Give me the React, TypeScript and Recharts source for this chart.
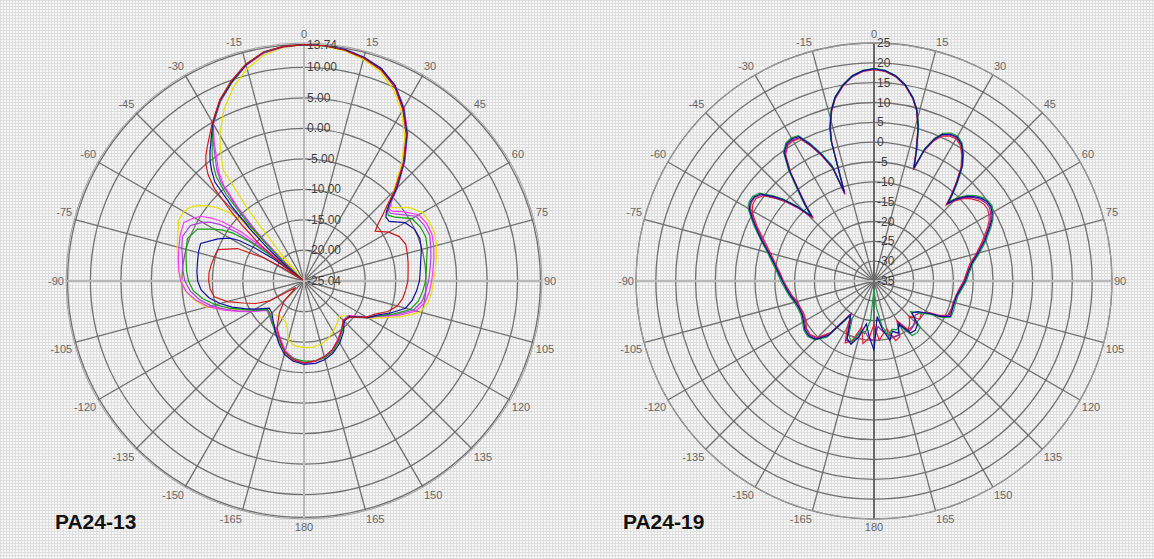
import { RadarChart, Radar, PolarGrid, PolarAngleAxis, PolarRadiusAxis } from 'recharts';

// angle ticks every 15 deg, clockwise from the top
const ANGLE_TICKS = [0, 15, 30, 45, 60, 75, 90, 105, 120, 135, 150, 165, 180, 195, 210, 225, 240, 255, 270, 285, 300, 315, 330, 345];

// ---- PA24-13 ----
const L_ANGLES = [0, 5, 10, 15, 20, 25, 30, 35, 40, 45, 48, 50, 52, 55, 60, 65, 70, 75, 80, 85, 90, 95, 100, 105, 110, 115, 120, 128, 135, 142, 150, 158, 165, 172, 180, 188, 195, 202, 210, 218, 225, 232, 240, 245, 250, 255, 260, 265, 270, 275, 280, 285, 290, 296, 300, 302, 304, 306, 308, 310, 312, 314, 316, 318, 320, 322, 324, 327, 330, 335, 340, 345, 350, 355];
const L_YELLOW = [
  13.74, 13.6, 13.3, 12.6, 11.5, 9.6, 7.0, 3.8, -0.2, -4.3,
  -5.8, -6.3, -5.5, -4.0,
  -2.6, -2.3, -2.2, -2.5, -3.0, -3.4, -3.8, -4.0, -4.4, -5.3, -8.0, -10.8, -12.8,
  -15.8, -16.8, -16.2, -15.5, -14.7, -14.3, -14.1, -14.1,
  -14.3, -15.0, -17.5, -18.0, -17.8, -17.5, -17.3,
  -15.5, -13.8, -11.5, -8.5, -6.8, -5.6, -4.9, -4.4, -4.0, -3.5, -3.0, -2.2,
  -2.3, -2.6, -3.1, -4.0, -5.0, -6.3, -8.0, -10.5, -19.0, -24.8, -19.0, -10.0, -2.5,
  0.0, 2.6, 6.0, 8.8, 11.0, 12.6, 13.4,
];
const L_MAGENTA = [
  13.74, 13.7, 13.5, 12.95, 12.0, 10.3, 7.7, 4.5, 0.6, -3.4,
  -5.8, -6.8, -6.5, -5.2,
  -3.3, -2.8, -2.7, -3.0, -3.4, -3.8, -4.1, -4.4, -4.9, -6.0, -8.5, -11.3, -13.3,
  -15.8, -16.0, -15.0, -14.0, -12.8, -12.2, -11.8, -11.6,
  -12.3, -13.2, -14.8, -15.9, -16.6, -17.3, -17.2,
  -15.0, -13.2, -11.0, -8.8, -7.0, -5.6, -4.8, -4.4, -4.1, -3.8, -3.4, -3.1,
  -4.3, -5.0, -6.5, -8.5, -12.0, -19.0, -24.8, -20.0, -14.0, -9.0, -4.5, -2.3, -0.8,
  2.0, 4.7, 7.4, 9.6, 11.6, 12.9, 13.5,
];
const L_VIOLET = [
  13.74, 13.7, 13.6, 13.0, 12.1, 10.4, 7.8, 4.6, 0.7, -3.3,
  -6.0, -7.0, -7.0, -6.0,
  -3.8, -3.3, -3.1, -3.5, -3.9, -4.3, -4.6, -5.0, -5.4, -6.5, -8.9, -11.4, -12.9,
  -15.4, -15.9, -14.9, -13.8, -12.7, -12.0, -11.7, -11.5,
  -12.1, -13.0, -14.5, -15.7, -16.4, -17.0, -17.3,
  -15.2, -13.4, -11.4, -9.3, -7.6, -6.3, -5.5, -5.1, -4.8, -4.3, -3.8, -4.3,
  -5.8, -6.8, -8.5, -11.5, -17.0, -24.5, -23.5, -19.0, -13.5, -8.0, -3.8, -1.8, -0.3,
  2.3, 4.7, 7.5, 9.6, 11.6, 13.0, 13.5,
];
const L_GREEN = [
  13.74, 13.7, 13.5, 12.9, 12.0, 10.3, 7.6, 4.4, 0.5, -3.5,
  -6.2, -7.2, -7.5, -6.8,
  -4.6, -4.0, -3.8, -4.1, -4.6, -4.9, -5.1, -5.5, -6.0, -7.0, -9.3, -11.6, -13.0,
  -15.6, -15.9, -14.8, -13.6, -12.5, -12.0, -11.8, -11.9,
  -12.2, -13.0, -14.2, -15.5, -16.5, -17.2, -17.5,
  -15.5, -14.0, -12.0, -10.0, -8.2, -6.8, -6.1, -5.7, -5.4, -5.0, -4.7, -5.6,
  -8.0, -9.3, -11.0, -14.0, -19.0, -24.8, -21.5, -17.0, -11.5, -6.0, -2.6, -0.9, 0.6,
  2.6, 4.8, 7.5, 9.6, 11.7, 13.0, 13.6,
];
const L_NAVY = [
  13.74, 13.7, 13.5, 12.9, 12.0, 10.3, 7.6, 4.4, 0.5, -3.6,
  -6.3, -7.4, -8.0, -8.0,
  -5.9, -5.0, -4.8, -5.1, -5.6, -5.9, -6.1, -6.5, -7.0, -7.8, -9.8, -11.8, -13.0,
  -15.6, -15.7, -14.5, -13.3, -12.3, -11.7, -11.4, -11.35,
  -11.8, -12.6, -14.0, -15.6, -16.8, -17.6, -17.8,
  -15.8, -14.3, -12.5, -10.8, -9.2, -8.1, -7.6, -7.4, -7.3, -7.1, -7.0, -9.3,
  -11.0, -12.5, -15.5, -19.0, -24.8, -21.5, -17.0, -12.5, -8.0, -3.2, -1.5, 0.0, 1.2,
  2.9, 4.9, 7.6, 9.7, 11.7, 13.1, 13.6,
];
const L_RED = [
  13.74, 13.7, 13.4, 12.8, 11.8, 10.1, 7.4, 4.2, 0.3, -4.0,
  -6.8, -8.2, -9.5, -10.8,
  -9.0, -7.8, -7.3, -7.5, -7.7, -7.9, -8.0, -8.3, -8.6, -9.2, -10.4, -12.2, -13.2,
  -15.4, -15.9, -15.0, -13.8, -12.8, -12.2, -11.8, -11.6,
  -12.0, -12.9, -14.6, -16.2, -18.5, -20.5, -23.3,
  -18.5, -16.3, -14.5, -12.0, -10.1, -9.6, -9.4, -9.4, -9.6, -9.8, -10.0, -12.9,
  -17.5, -21.0, -24.8, -22.5, -19.0, -15.0, -11.5, -7.8, -3.8, -1.5, 0.0, 1.1, 2.0,
  3.4, 5.0, 7.7, 9.9, 11.8, 13.1, 13.6,
];
const L_TICKS = [-25.04, -20, -15, -10, -5, 0, 5, 10, 13.74];

// ---- PA24-19 ----
const R_ANGLES = [
  0, 3, 6, 9, 12, 14, 16, 18, 19.5, 21,
  23, 25, 27.5, 30, 32.5, 35, 37.5, 40, 42, 43.5,
  45, 47.5, 50, 52.5, 55, 57.5, 60, 62.5, 65, 70,
  75, 80, 85, 90, 95, 100, 105, 110, 115, 118,
  120, 125, 130, 135, 140, 145, 150, 155, 160, 165,
  170, 175, 180, 185, 190, 195, 200, 205, 210, 215,
  220, 225, 230, 235, 240, 245, 250, 255, 260, 265,
  270, 275, 280, 285, 290, 295, 297.5, 300, 302.5, 305,
  307.5, 310, 312, 314, 316, 318, 320, 322.5, 325, 327.5,
  330, 332.5, 335, 337.5, 340, 341.5, 343, 344, 346, 348,
  351, 354, 357,
];
const R_NAVY = [
  18.5, 18.1, 17.0, 15.1, 12.2, 9.5, 5.5, -0.3, -4.8, 0.5,
  3.8, 5.8, 6.7, 6.9, 6.0, 4.1, 1.5, -2.4, -5.5, -8.0,
  -5.8, -3.4, -1.9, -0.8, -0.2, -0.1, -0.6, -1.5, -2.8, -5.3,
  -7.8, -10.0, -11.2, -12.0, -13.0, -13.8, -14.0, -14.0, -13.8, -16.0,
  -18.5, -21.5, -22.5, -19.5, -18.8, -19.0, -22.5, -20.5, -21.5, -19.5,
  -22.5, -26.0, -17.5, -21.0, -24.0, -20.5, -18.0, -19.0, -23.0, -24.5,
  -17.0, -14.2, -13.5, -13.7, -14.5, -15.0, -14.9, -14.5, -13.6, -12.8,
  -11.9, -10.8, -9.4, -7.5, -4.8, -1.9, -0.3, 1.3, 2.0, 1.9,
  1.0, -1.9, -4.5, -8.0, -12.4, -9.0, -5.5, 0.0, 4.5, 6.0,
  6.4, 6.0, 3.0, -0.5, -4.5, -11.5, 1.8, 5.2, 9.4, 12.3,
  15.0, 17.0, 18.1,
];
const R_RED = [
  18.3, 17.9, 16.8, 14.9, 12.0, 9.3, 5.2, -0.8, -5.3, 0.0,
  3.3, 5.3, 6.2, 6.4, 5.5, 3.6, 1.0, -2.9, -6.0, -8.6,
  -6.5, -4.2, -2.8, -1.8, -1.2, -1.1, -1.5, -2.3, -3.5, -6.0,
  -8.3, -10.5, -11.6, -12.4, -13.4, -14.0, -14.3, -14.3, -14.5, -16.5,
  -19.0, -20.5, -20.0, -22.5, -21.0, -20.0, -23.5, -19.5, -19.0, -22.5,
  -21.5, -20.0, -24.0, -20.5, -19.0, -23.0, -19.0, -17.8, -21.5, -25.0,
  -18.0, -14.8, -14.0, -14.2, -15.2, -15.5, -15.3, -15.0, -14.0, -13.2,
  -12.2, -11.2, -9.8, -8.0, -5.6, -2.5, -1.0, 0.5, 1.2, 1.3,
  0.3, -2.6, -5.2, -8.8, -13.0, -9.5, -6.0, -0.5, 3.8, 5.5,
  5.8, 5.5, 2.5, -1.0, -5.0, -12.0, 1.3, 4.8, 9.1, 12.0,
  14.8, 16.8, 17.9,
];
const R_GREEN = [
  18.6, 18.2, 17.1, 15.2, 12.3, 9.7, 5.8, 0.0, -4.5, 0.8,
  4.1, 6.1, 7.0, 7.2, 6.3, 4.4, 1.8, -2.0, -5.1, -7.4,
  -5.3, -3.0, -1.5, -0.4, 0.2, 0.3, -0.3, -1.2, -2.4, -4.9,
  -7.4, -9.7, -10.9, -11.7, -12.7, -13.5, -13.7, -13.6, -13.6, -15.5,
  -18.0, -21.0, -23.0, -18.5, -18.0, -18.2, -22.0, -21.5, -22.0, -20.5,
  -23.5, -28.5, -33.0, -25.0, -21.5, -22.0, -18.5, -20.0, -24.0, -24.0,
  -16.5, -14.0, -13.2, -13.4, -14.2, -14.7, -14.6, -14.2, -13.3, -12.5,
  -11.5, -10.5, -9.0, -7.2, -4.6, -1.5, 0.0, 1.7, 2.3, 2.3,
  1.4, -1.5, -4.0, -7.6, -12.0, -8.5, -5.0, 0.5, 4.8, 6.3,
  6.7, 6.3, 3.3, -0.2, -4.0, -11.0, 2.2, 5.5, 9.6, 12.4,
  15.2, 17.1, 18.2,
];
const R_PURPLE = [
  18.4, 18.0, 16.9, 15.0, 12.1, 9.4, 5.4, -0.5, -5.1, 0.3,
  3.6, 5.6, 6.5, 6.7, 5.8, 3.9, 1.3, -2.6, -5.8, -8.3,
  -6.1, -3.8, -2.3, -1.2, -0.6, -0.5, -1.0, -1.9, -3.1, -5.6,
  -8.0, -10.2, -11.4, -12.2, -13.2, -13.9, -14.2, -14.2, -14.2, -16.3,
  -18.8, -21.0, -21.5, -20.5, -19.8, -19.5, -23.0, -20.0, -20.0, -21.0,
  -22.0, -23.5, -20.0, -20.5, -22.0, -21.5, -18.5, -18.5, -22.5, -24.8,
  -17.5, -14.5, -13.8, -14.0, -14.8, -15.2, -15.1, -14.8, -13.8, -13.0,
  -12.0, -11.0, -9.5, -7.7, -5.2, -2.1, -0.6, 1.0, 1.7, 1.7,
  0.7, -2.2, -4.8, -8.4, -12.7, -9.2, -5.8, -0.2, 4.1, 5.7,
  6.1, 5.7, 2.7, -0.8, -4.7, -11.8, 1.6, 5.0, 9.2, 12.1,
  14.9, 16.9, 18.0,
];
const R_TICKS = [-35, -30, -25, -20, -15, -10, -5, 0, 5, 10, 15, 20, 25];

const leftData = L_ANGLES.map((angle, i) => ({
  angle,
  yellow: L_YELLOW[i],
  magenta: L_MAGENTA[i],
  violet: L_VIOLET[i],
  green: L_GREEN[i],
  navy: L_NAVY[i],
  red: L_RED[i],
}));

const rightData = R_ANGLES.map((angle, i) => ({
  angle,
  navy: R_NAVY[i],
  red: R_RED[i],
  green: R_GREEN[i],
  purple: R_PURPLE[i],
}));

const leftSeries = [
  { key: 'yellow', color: '#e6e000' },
  { key: 'magenta', color: '#ff33ff' },
  { key: 'violet', color: '#b040e0' },
  { key: 'green', color: '#10a010' },
  { key: 'navy', color: '#1010a0' },
  { key: 'red', color: '#d01818' },
];

const rightSeries = [
  { key: 'red', color: '#e02030' },
  { key: 'purple', color: '#a020a0' },
  { key: 'green', color: '#10a040' },
  { key: 'navy', color: '#101090' },
];

const FONT = '"Liberation Sans", Arial, sans-serif';

const angleLabel = (v: number) => (v > 180 ? String(v - 360) : String(v));

const AngleTick = (props: any) => {
  const { x, y, textAnchor, payload } = props;
  const v = payload.value;
  let dy = 4;
  if (v !== 90 && v !== 270) dy = v < 90 || v > 270 ? -3 : 10;
  return (
    <text x={x} y={y + dy} textAnchor={textAnchor} fontSize={11} fill="#666666" stroke="none" fontFamily={FONT}>
      {angleLabel(v)}
    </text>
  );
};

const makeRadiusTick = (fmt: (v: number) => string) => (props: any) => (
  <text x={props.x + 3} y={props.y + 4} fontSize={12} fill="#3e3e3e" stroke="none" fontFamily={FONT}>
    {fmt(props.payload.value)}
  </text>
);

type PlotProps = {
  data: any[];
  series: { key: string; color: string }[];
  domain: [number, number];
  ticks: number[];
  fmt: (v: number) => string;
  left: number;
  cx: number;
  vColor: string;
};

const PolarPlot = ({ data, series, domain, ticks, fmt, left, cx, vColor }: PlotProps) => (
  <div style={{ position: 'absolute', left, top: 0 }}>
    <RadarChart width={577} height={559} data={data} cx={cx} cy={281} outerRadius={238} margin={{ top: 0, right: 0, bottom: 0, left: 0 }}>
      <PolarGrid gridType="circle" stroke="#707070" strokeWidth={1.3} />
      <PolarGrid gridType="circle" polarAngles={[0, 180]} polarRadius={[]} stroke="#b8b8b8" strokeWidth={2} />
      <PolarGrid gridType="circle" polarAngles={[90, -90]} polarRadius={[]} stroke={vColor} strokeWidth={2} />
      <PolarAngleAxis
        dataKey="angle"
        type="number"
        domain={[0, 360]}
        ticks={ANGLE_TICKS}
        tick={AngleTick}
        tickSize={2}
        tickLine={false}
        axisLineType="circle"
        stroke="#a0a0a0"
      />
      <PolarRadiusAxis
        angle={90}
        type="number"
        domain={domain}
        ticks={ticks}
        allowDataOverflow
        axisLine={false}
        tickLine={false}
        tick={makeRadiusTick(fmt)}
      />
      {series.map((s) => (
        <Radar
          key={s.key}
          dataKey={s.key}
          stroke={s.color}
          strokeWidth={1.2}
          fill="none"
          fillOpacity={0}
          dot={false}
          isAnimationActive={false}
        />
      ))}
    </RadarChart>
  </div>
);

const titleStyle = {
  position: 'absolute' as const,
  fontFamily: FONT,
  fontWeight: 700,
  fontSize: 21,
  lineHeight: '21px',
  color: '#111',
  top: 511,
};

export default function App() {
  return (
    <div
      style={{
        position: 'absolute',
        left: 0,
        top: 0,
        width: 1154,
        height: 559,
        overflow: 'hidden',
        backgroundColor: '#f8f8f8',
        backgroundImage:
          'repeating-linear-gradient(0deg, #dedede 0px, #dedede 1px, transparent 1px, transparent 3px), repeating-linear-gradient(90deg, #dedede 0px, #dedede 1px, transparent 1px, transparent 3px)',
      }}
    >
      <PolarPlot
        data={leftData}
        series={leftSeries}
        domain={[-25.04, 13.74]}
        ticks={L_TICKS}
        fmt={(v) => v.toFixed(2)}
        left={0}
        cx={304}
        vColor="#b8b8b8"
      />
      <PolarPlot
        data={rightData}
        series={rightSeries}
        domain={[-35, 25]}
        ticks={R_TICKS}
        fmt={(v) => String(v)}
        left={577}
        cx={297}
        vColor="#666"
      />
      <div style={{ ...titleStyle, left: 55 }}>PA24-13</div>
      <div style={{ ...titleStyle, left: 623 }}>PA24-19</div>
    </div>
  );
}
